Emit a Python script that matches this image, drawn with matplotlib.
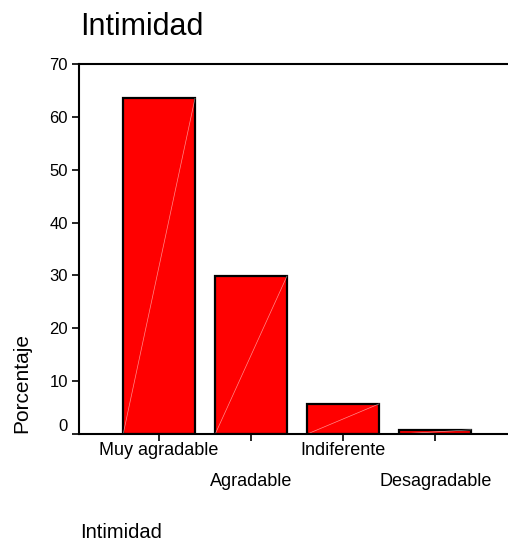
import numpy as np
import matplotlib.pyplot as plt

plt.rcParams['font.family'] = ['Liberation Sans', 'DejaVu Sans']

# datos
categorias = ['Muy agradable', 'Agradable', 'Indiferente', 'Desagradable']
porcentaje = [63.5, 29.9, 5.7, 0.8]

fig = plt.figure(figsize=(5.08, 5.42), dpi=100)
ax = fig.add_axes([79 / 508, 108 / 542, 429 / 508, 370 / 542])

x = np.arange(len(categorias))
barras = ax.bar(x, porcentaje, width=0.78, color='#ff0000',
                edgecolor='black', linewidth=1.6)

# la fina diagonal blanca que aparece dentro de cada barra
for b in barras:
    x0 = b.get_x()
    ax.plot([x0, x0 + b.get_width()], [0, b.get_height()],
            color='white', linewidth=0.5, alpha=0.55)

ax.set_xlim(-0.87, 3.79)
ax.set_ylim(0, 70)
ax.set_yticks(range(0, 71, 10))
ax.set_xticks(x)
ax.set_xticklabels([c if i % 2 == 0 else '\n' + c for i, c in enumerate(categorias)],
                   fontsize=13, linespacing=2.05)
ax.tick_params(axis='y', labelsize=12, length=5, width=1.2, pad=3)
ax.tick_params(axis='x', length=5, width=1.2, pad=0.8)
ax.get_yticklabels()[0].set_va('bottom')

for s in ['left', 'top', 'bottom']:
    ax.spines[s].set_linewidth(1.5)
ax.spines['right'].set_visible(False)

fig.text(80 / 508, 1 - 27 / 542, 'Intimidad', fontsize=22, va='center', ha='left')
fig.text(80 / 508, 1 - 533 / 542, 'Intimidad', fontsize=14.5, va='center', ha='left')
fig.text(22 / 508, 1 - 383 / 542, 'Porcentaje', fontsize=15, rotation=90,
         va='center', ha='center')

fig.savefig('out.png', dpi=100)
